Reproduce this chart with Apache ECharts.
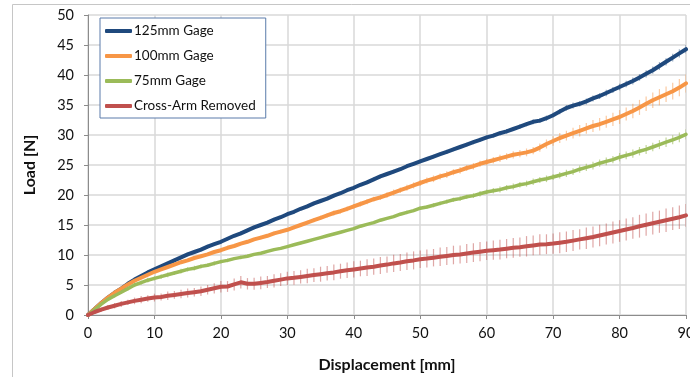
<!DOCTYPE html>
<html>
<head>
<meta charset="utf-8">
<script src="https://cdn.jsdelivr.net/npm/echarts@6/dist/echarts.min.js"></script>
<style>html,body{margin:0;padding:0;background:#fff}#c{width:690px;height:377px}</style>
</head>
<body>
<div id="c"></div>
<script>
// Displacement [mm]
var displacement = [0,1,2,3,4,5,6,7,8,9,10,11,12,13,14,15,16,17,18,19,20,21,22,23,24,25,26,27,28,29,30,31,32,33,34,35,36,37,38,39,40,41,42,43,44,45,46,47,48,49,50,51,52,53,54,55,56,57,58,59,60,61,62,63,64,65,66,67,68,69,70,71,72,73,74,75,76,77,78,79,80,81,82,83,84,85,86,87,88,89,90];

var seriesNames = ['125mm Gage', '100mm Gage', '75mm Gage', 'Cross-Arm Removed'];

var load125 = [0,1.0,2.0,2.9,3.7,4.4,5.2,5.9,6.5,7.1,7.6,
8.1,8.6,9.1,9.6,10.1,10.5,10.9,11.4,11.8,12.2,
12.7,13.2,13.6,14.1,14.6,15.0,15.4,15.9,16.3,16.8,
17.2,17.7,18.1,18.6,19.0,19.4,19.9,20.3,20.8,21.2,
21.7,22.1,22.6,23.1,23.5,23.9,24.3,24.8,25.2,25.6,
26.0,26.4,26.8,27.2,27.6,28.0,28.4,28.8,29.2,29.6,
29.9,30.3,30.6,31.0,31.4,31.8,32.2,32.4,32.8,33.3,
33.9,34.5,34.9,35.2,35.6,36.1,36.5,37.0,37.5,38.0,
38.5,39.0,39.6,40.2,40.8,41.5,42.2,42.9,43.6,44.3];

var load100 = [0,1.0,2.0,2.9,3.7,4.4,5.1,5.7,6.2,6.7,7.2,
7.6,8.0,8.4,8.8,9.1,9.5,9.8,10.1,10.5,10.8,
11.2,11.5,11.9,12.2,12.6,12.9,13.2,13.6,13.9,14.2,
14.6,15.0,15.4,15.8,16.2,16.6,17.0,17.3,17.7,18.1,
18.5,18.9,19.3,19.6,20.0,20.4,20.8,21.2,21.6,22.0,
22.4,22.7,23.1,23.4,23.8,24.1,24.5,24.8,25.2,25.5,
25.8,26.1,26.4,26.7,26.9,27.1,27.4,27.9,28.5,29.0,
29.5,29.9,30.3,30.7,31.1,31.5,31.8,32.2,32.6,33.0,
33.5,34.0,34.6,35.2,35.8,36.3,36.8,37.3,37.9,38.6];

var load75 = [0,0.9,1.8,2.6,3.2,3.8,4.4,5.0,5.4,5.8,6.1,
6.4,6.7,7.0,7.3,7.6,7.8,8.1,8.3,8.6,8.9,
9.1,9.4,9.6,9.8,10.1,10.3,10.6,10.9,11.1,11.4,
11.7,12.0,12.3,12.6,12.9,13.2,13.5,13.8,14.1,14.4,
14.8,15.1,15.4,15.8,16.1,16.4,16.8,17.1,17.4,17.8,
18.0,18.3,18.6,18.9,19.2,19.4,19.7,19.9,20.2,20.5,
20.7,20.9,21.2,21.4,21.7,21.9,22.2,22.5,22.7,23.0,
23.3,23.6,23.9,24.3,24.6,24.9,25.3,25.6,25.9,26.3,
26.6,26.9,27.3,27.6,28.0,28.4,28.8,29.2,29.6,30.1];

var loadRemoved = [0,0.5,0.9,1.25,1.55,1.85,2.1,2.35,2.55,2.75,2.9,
3.0,3.2,3.35,3.5,3.65,3.8,3.95,4.2,4.45,4.7,
4.75,5.1,5.45,5.2,5.2,5.35,5.5,5.7,5.9,6.1,
6.2,6.35,6.5,6.65,6.8,6.95,7.1,7.3,7.45,7.6,
7.75,7.9,8.05,8.25,8.4,8.6,8.75,8.95,9.1,9.3,
9.4,9.55,9.7,9.85,10.0,10.1,10.25,10.4,10.55,10.7,
10.8,10.9,11.05,11.2,11.3,11.45,11.6,11.75,11.8,11.9,
12.05,12.2,12.4,12.6,12.8,13.0,13.25,13.5,13.75,14.0,
14.25,14.5,14.8,15.05,15.3,15.55,15.8,16.05,16.3,16.6];

// error bar half-widths [N]
var err125 = [0,0.15,0.2,0.2,0.2,0.25,0.2,0.25,0.25,0.2,0.25,
0.25,0.25,0.3,0.25,0.3,0.25,0.3,0.3,0.25,0.3,
0.3,0.3,0.3,0.3,0.3,0.3,0.3,0.3,0.3,0.3,
0.3,0.3,0.3,0.3,0.3,0.3,0.3,0.3,0.3,0.3,
0.3,0.3,0.3,0.3,0.3,0.3,0.3,0.3,0.3,0.3,
0.3,0.3,0.3,0.35,0.3,0.35,0.3,0.35,0.35,0.35,
0.35,0.35,0.4,0.35,0.4,0.35,0.4,0.4,0.45,0.4,
0.45,0.45,0.5,0.45,0.5,0.5,0.5,0.55,0.5,0.55,
0.55,0.6,0.55,0.6,0.6,0.65,0.6,0.65,0.7,0.7];

var err100 = [0,0.15,0.15,0.15,0.2,0.2,0.2,0.2,0.2,0.25,0.2,
0.25,0.2,0.25,0.2,0.25,0.25,0.2,0.25,0.25,0.25,
0.25,0.3,0.25,0.3,0.25,0.3,0.3,0.3,0.3,0.3,
0.3,0.35,0.3,0.35,0.35,0.35,0.4,0.35,0.4,0.4,
0.4,0.45,0.4,0.45,0.45,0.5,0.45,0.5,0.5,0.5,
0.5,0.55,0.5,0.55,0.5,0.55,0.5,0.55,0.5,0.55,
0.55,0.6,0.55,0.6,0.6,0.65,0.6,0.7,0.75,0.8,
0.85,0.8,0.9,0.95,0.9,1.0,1.05,1.0,1.1,1.15,
1.1,1.2,1.25,1.2,1.3,1.35,1.3,1.4,1.45,1.5];

var err75 = [0,0.2,0.25,0.25,0.3,0.3,0.3,0.35,0.35,0.4,0.35,
0.4,0.4,0.35,0.4,0.35,0.4,0.35,0.3,0.35,0.3,
0.3,0.25,0.3,0.25,0.25,0.2,0.25,0.2,0.2,0.2,
0.2,0.2,0.2,0.2,0.2,0.2,0.2,0.2,0.2,0.2,
0.2,0.25,0.2,0.25,0.2,0.25,0.25,0.3,0.25,0.3,
0.3,0.35,0.3,0.35,0.35,0.4,0.35,0.4,0.45,0.4,
0.45,0.5,0.45,0.5,0.45,0.5,0.55,0.5,0.55,0.5,
0.55,0.6,0.55,0.6,0.6,0.65,0.6,0.65,0.6,0.7,
0.65,0.7,0.7,0.75,0.7,0.75,0.8,0.75,0.8,0.85];

var errRemoved = [0,0.3,0.35,0.4,0.45,0.5,0.45,0.55,0.6,0.55,0.65,
0.6,0.7,0.65,0.7,0.75,0.7,0.8,0.8,0.85,0.95,
0.9,1.0,1.05,0.95,1.0,1.05,1.0,1.1,1.05,1.1,
1.15,1.1,1.2,1.15,1.25,1.2,1.3,1.25,1.3,1.35,
1.3,1.4,1.35,1.4,1.35,1.45,1.4,1.45,1.5,1.45,
1.5,1.45,1.55,1.5,1.55,1.5,1.6,1.55,1.6,1.55,
1.6,1.65,1.6,1.65,1.6,1.7,1.65,1.7,1.65,1.7,
1.75,1.7,1.75,1.7,1.8,1.75,1.8,1.75,1.85,1.8,
1.85,1.8,1.9,1.85,1.9,1.85,1.95,1.9,1.95,1.9];

var colors = ['#1F497D', '#F79646', '#9BBB59', '#C0504D'];
var errColors = ['rgba(31,73,125,0.45)', 'rgba(247,150,70,0.5)', 'rgba(155,187,89,0.6)', 'rgba(192,80,77,0.5)'];
var loads = [load125, load100, load75, loadRemoved];
var errs = [err125, err100, err75, errRemoved];

var font = 'Lato, "Open Sans", sans-serif';
var chart = echarts.init(document.getElementById('c'), null, {renderer: 'canvas'});

var series = [];
loads.forEach(function (vals, i) {
  series.push({
    name: seriesNames[i] + ' err',
    type: 'custom',
    clip: true,
    z: 1,
    silent: true,
    data: displacement.map(function (x, k) { return [x, vals[k] - errs[i][k], vals[k] + errs[i][k]]; }),
    encode: {x: 0, y: [1, 2]},
    renderItem: (function (col) {
      return function (params, api) {
        var p1 = api.coord([api.value(0), api.value(1)]);
        var p2 = api.coord([api.value(0), api.value(2)]);
        return {type: 'line', shape: {x1: p1[0], y1: p1[1], x2: p2[0], y2: p2[1]}, style: {stroke: col, lineWidth: 1.2}};
      };
    })(errColors[i])
  });
});
loads.forEach(function (vals, i) {
  series.push({
    name: seriesNames[i],
    type: 'line',
    z: 3,
    showSymbol: false,
    symbol: 'none',
    animation: false,
    color: colors[i],
    lineStyle: {width: i === 2 ? 3.5 : 4, color: colors[i], cap: 'round', join: 'round'},
    data: displacement.map(function (x, k) { return [x, vals[k]]; })
  });
});

chart.setOption({
  animation: false,
  backgroundColor: '#fff',
  graphic: [{
    type: 'rect', silent: true, z: -10,
    shape: {x: 12.5, y: 4.5, width: 700, height: 400},
    style: {fill: 'none', stroke: '#c6c6c6', lineWidth: 1}
  }],
  grid: {left: 88, right: 4, top: 15, bottom: 62, containLabel: false, outerBoundsMode: 'none'},
  legend: {
    data: seriesNames.map(function (n) { return {name: n, icon: 'roundRect'}; }),
    orient: 'vertical',
    left: 100, top: 18,
    padding: [6, 10, 5, 5],
    itemWidth: 27, itemHeight: 4, itemGap: 11,
    backgroundColor: '#fff',
    borderColor: '#5A7BAA', borderWidth: 1,
    textStyle: {fontFamily: font, fontSize: 13.5, color: '#111', lineHeight: 14, padding: [0, 0, 0, -3]}
  },
  xAxis: {
    type: 'value', min: 0, max: 90, interval: 10,
    name: 'Displacement [mm]', nameLocation: 'middle', nameGap: 42,
    nameTextStyle: {fontFamily: font, fontSize: 16, fontWeight: 'bold', color: '#111'},
    axisLine: {show: true, lineStyle: {color: '#8c8c8c', width: 1}},
    axisTick: {show: true, length: 4, lineStyle: {color: '#8c8c8c'}},
    axisLabel: {fontFamily: font, fontSize: 14.5, color: '#111', margin: 11},
    splitLine: {show: true, lineStyle: {color: '#d9d9d9', width: 1.5}}
  },
  yAxis: {
    type: 'value', min: 0, max: 50, interval: 5,
    name: 'Load [N]', nameLocation: 'middle', nameGap: 50,
    nameTextStyle: {fontFamily: font, fontSize: 16, fontWeight: 'bold', color: '#111'},
    axisLine: {show: true, lineStyle: {color: '#8c8c8c', width: 1}},
    axisTick: {show: true, length: 4, lineStyle: {color: '#8c8c8c'}},
    axisLabel: {fontFamily: font, fontSize: 14.5, color: '#111', margin: 14},
    splitLine: {show: true, lineStyle: {color: '#d9d9d9', width: 1.5}}
  },
  series: series
});
</script>
</body>
</html>
